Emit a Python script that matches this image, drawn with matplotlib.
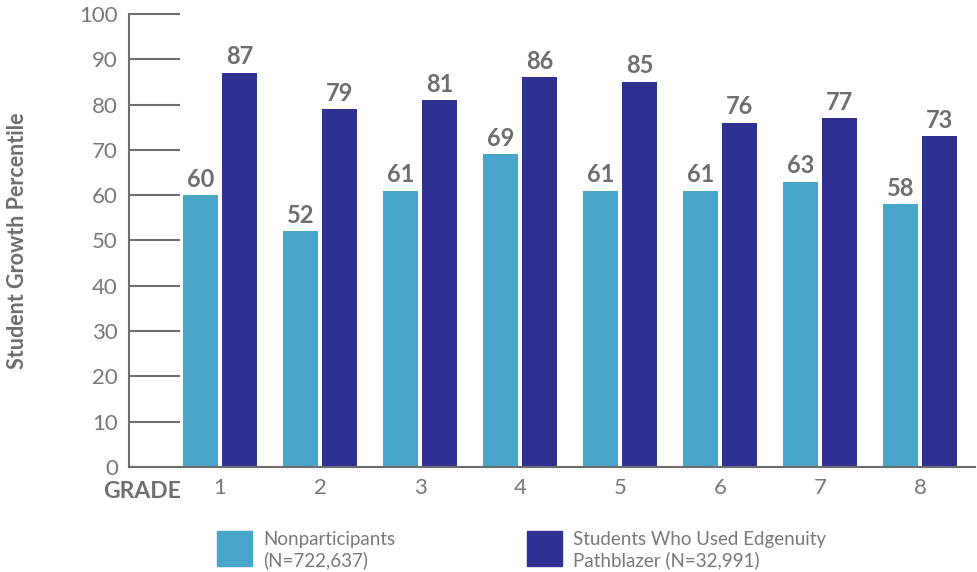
import numpy as np
import matplotlib.pyplot as plt
from matplotlib.patches import Rectangle

grades = ['1', '2', '3', '4', '5', '6', '7', '8']
nonparticipants = [60, 52, 61, 69, 61, 61, 63, 58]
pathblazer = [87, 79, 81, 86, 85, 76, 77, 73]
yticks = [0, 10, 20, 30, 40, 50, 60, 70, 80, 90, 100]

light = '#47a5ca'
dark = '#2e3192'
grey = '#6d6e71'

plt.rcParams['font.family'] = ['Lato', 'DejaVu Sans']

fig = plt.figure(figsize=(9.78, 5.72), dpi=100)
ax = fig.add_axes([0.132, 0.1836, 0.865, 0.792])

x = np.arange(1, len(grades) + 1)
w = 0.35
off = 0.195
ax.bar(x - off, nonparticipants, w, color=light)
ax.bar(x + off, pathblazer, w, color=dark)

for xi, v in zip(x - off, nonparticipants):
    ax.text(xi, v + 1.0, str(v), ha='center', va='bottom', fontsize=17,
            fontweight='bold', color=grey)
for xi, v in zip(x + off, pathblazer):
    ax.text(xi, v + 1.0, str(v), ha='center', va='bottom', fontsize=17,
            fontweight='bold', color=grey)

ax.set_xlim(0.09, 8.55)
ax.set_ylim(0, 100)
ax.set_yticks(yticks)
ax.set_xticks(x)
ax.set_xticklabels(grades)
ax.tick_params(axis='y', direction='in', length=37, width=1.5, color=grey,
               labelsize=16, labelcolor='#77787b', pad=8)
ax.tick_params(axis='x', length=0, labelsize=16, labelcolor='#77787b', pad=8)

for s in ['top', 'right']:
    ax.spines[s].set_visible(False)
for s in ['left', 'bottom']:
    ax.spines[s].set_color(grey)
    ax.spines[s].set_linewidth(1.5)

ax.set_ylabel('Student Growth Percentile', fontsize=15.5, fontweight='bold',
              color=grey)
ax.yaxis.set_label_coords(-0.119, 0.5)

fig.text(0.185, 1 - 491 / 572, 'GRADE', ha='right', va='center', fontsize=16.5,
         fontweight='bold', color=grey)

# legend
fig.patches.append(Rectangle((217 / 978, 1 - 566 / 572), 35 / 978, 35 / 572,
                             transform=fig.transFigure, color=light))
fig.text(263 / 978, 1 - 550 / 572, 'Nonparticipants\n(N=722,637)', ha='left',
         va='center', fontsize=13.5, color='#77787b', linespacing=1.2)
fig.patches.append(Rectangle((527 / 978, 1 - 566 / 572), 35 / 978, 35 / 572,
                             transform=fig.transFigure, color=dark))
fig.text(573 / 978, 1 - 550 / 572,
         'Students Who Used Edgenuity\nPathblazer (N=32,991)', ha='left',
         va='center', fontsize=13.5, color='#77787b', linespacing=1.2)

fig.savefig('out.png', dpi=100)
